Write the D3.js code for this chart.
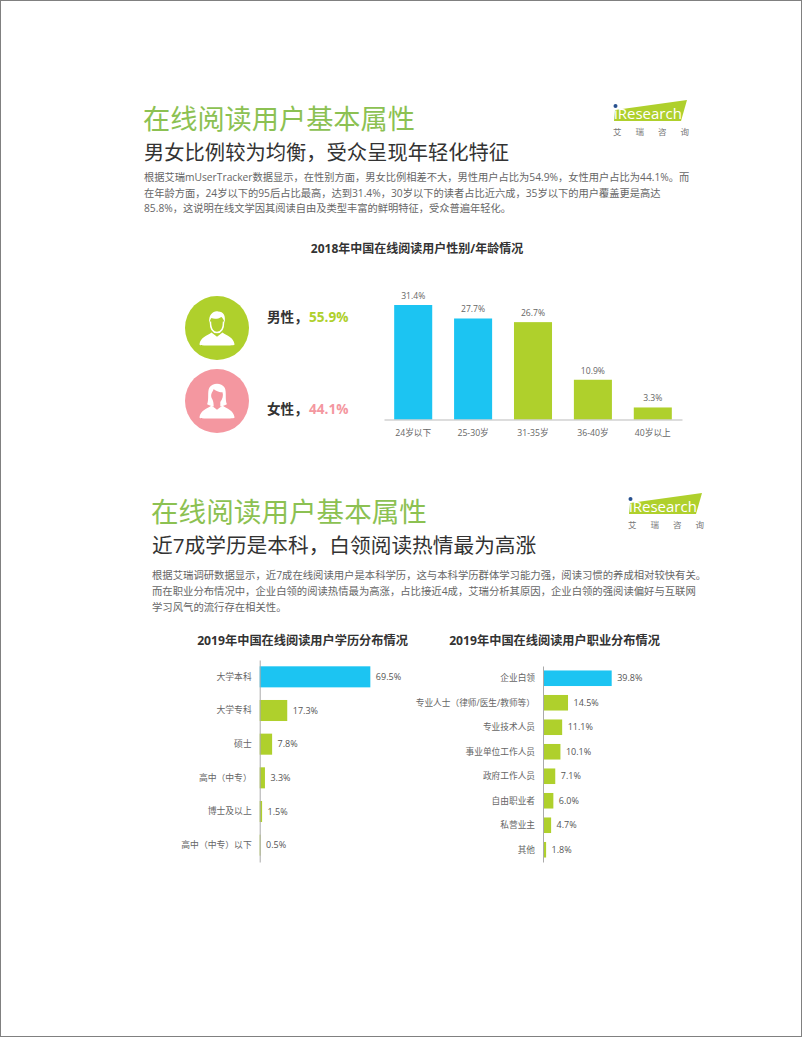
<!DOCTYPE html>
<html>
<head>
<meta charset="utf-8">
<script src="https://cdn.jsdelivr.net/npm/d3@7"></script>
<style>
  html, body { margin: 0; padding: 0; background: #fff; }
  svg { display: block; }
  text { font-family: "Open Sans", "Noto Sans CJK SC", sans-serif; }
</style>
</head>
<body>
<div id="chart"></div>
<script>
const ageCategories = ['24岁以下', '25-30岁', '31-35岁', '36-40岁', '40岁以上'];
const ageValues = [31.4, 27.7, 26.7, 10.9, 3.3];
const ageHighlight = ['24岁以下', '25-30岁'];

const eduCategories = ['大学本科', '大学专科', '硕士', '高中（中专）', '博士及以上', '高中（中专）以下'];
const eduValues = [69.5, 17.3, 7.8, 3.3, 1.5, 0.5];

const jobCategories = ['企业白领', '专业人士（律师/医生/教师等）', '专业技术人员', '事业单位工作人员', '政府工作人员', '自由职业者', '私营业主', '其他'];
const jobValues = [39.8, 14.5, 11.1, 10.1, 7.1, 6.0, 4.7, 1.8];

const blue = '#1cc4f2';
const green = '#afd02c';
const pink = '#f497a0';
const titleGreen = '#8cc152';
const labelFont = '"Open Sans", "Noto Sans CJK SC", sans-serif';

const svg = d3.select('#chart').append('svg').attr('width', 802).attr('height', 1037);
svg.append('rect').attr('x', 0.5).attr('y', 0.5).attr('width', 801).attr('height', 1036)
  .attr('fill', '#fff').attr('stroke', '#808080');

function addText(x, y, str, size, color, weight, anchor) {
  return svg.append('text').attr('x', x).attr('y', y).text(str)
    .attr('font-size', size).attr('fill', color)
    .attr('font-weight', weight || 400)
    .attr('text-anchor', anchor || 'start');
}

function logo(logoX, logoY) {
  const g = svg.append('g').attr('transform', `translate(${logoX},${logoY})`);
  g.append('path').attr('d', 'M3,11L75,1L69,22L2,22Z').attr('fill', green);
  g.append('text').attr('x', 2).attr('y', 20).text('iResearch')
    .attr('font-size', 15).attr('fill', '#fff');
  g.append('circle').attr('cx', 3.5).attr('cy', 7).attr('r', 2).attr('fill', '#27508f');
  ['艾', '瑞', '咨', '询'].forEach((c, i) => {
    g.append('text').attr('x', 1 + i * 22.5).attr('y', 36).text(c)
      .attr('font-size', 8.5).attr('fill', '#777');
  });
}

function header(x, yTitle, ySub, titleSize, subSize, subtitle, lines, lineY, lineGap, bodySize) {
  addText(x, yTitle, '在线阅读用户基本属性', titleSize, titleGreen);
  addText(x + 1, ySub, subtitle, subSize, '#333');
  lines.forEach((l, i) => addText(x + 1, lineY + i * lineGap, l, bodySize, '#666'));
}

header(143, 129, 160, 27.2, 20.3, '男女比例较为均衡，受众呈现年轻化特征', [
  '根据艾瑞mUserTracker数据显示，在性别方面，男女比例相差不大，男性用户占比为54.9%，女性用户占比为44.1%。而',
  '在年龄方面，24岁以下的95后占比最高，达到31.4%，30岁以下的读者占比近六成，35岁以下的用户覆盖更是高达',
  '85.8%，这说明在线文学因其阅读自由及类型丰富的鲜明特征，受众普遍年轻化。'
], 181, 15.5, 10.25);
logo(612, 99);

header(151, 522, 553, 27.6, 20.7, '近7成学历是本科，白领阅读热情最为高涨', [
  '根据艾瑞调研数据显示，近7成在线阅读用户是本科学历，这与本科学历群体学习能力强，阅读习惯的养成相对较快有关。',
  '而在职业分布情况中，企业白领的阅读热情最为高涨，占比接近4成，艾瑞分析其原因，企业白领的强阅读偏好与互联网',
  '学习风气的流行存在相关性。'
], 579, 16, 10.35);
logo(627, 492);

addText(417, 253, '2018年中国在线阅读用户性别/年龄情况', 12, '#333', 700, 'middle');
addText(302.5, 645, '2019年中国在线阅读用户学历分布情况', 12.2, '#333', 700, 'middle');
addText(554.5, 645, '2019年中国在线阅读用户职业分布情况', 12.2, '#333', 700, 'middle');

// 性别图标
function person(cx, cy, fill, female) {
  const c = svg.append('g').attr('transform', `translate(${cx},${cy})`);
  c.append('circle').attr('r', 32).attr('fill', fill);
  const g = c.append('g').attr('transform', 'scale(1.1)');
  g.append('path').attr('fill', '#fff')
    .attr('d', 'M-16,15C-15,8 -9,7 -5,4L0,8L5,4C9,7 15,8 16,15C16,16 10,16 0,16C-10,16 -16,16 -16,15Z');
  if (female) {
    g.append('path').attr('fill', '#fff').attr('d', 'M-9,3C-7,-2 -9,-8 -7,-12C-4,-17 4,-17 7,-12C9,-8 7,-2 9,3C5,5 3,5 3,5L3,1C5,-2 6,-5 5,-8C1,-8 -2,-10 -3,-11C-4,-8 -6,-7 -5,-3C-4,-1 -3,0 -3,5C-3,5 -5,5 -9,3Z');
  } else {
    g.append('path').attr('fill', 'none').attr('stroke', '#fff').attr('stroke-width', 1.4)
      .attr('d', 'M-6,-6C-6,2 -3,4 0,4C3,4 6,2 6,-6');
    g.append('path').attr('fill', '#fff').attr('d', 'M-7,-5C-8,-12 -3,-16 1,-15C6,-15 8,-11 7,-5C6,-8 5,-9 4,-10C1,-8 -3,-8 -5,-9C-6,-8 -6,-7 -7,-5Z');
  }
}
person(217, 328, green, false);
person(217, 401, pink, true);

addText(267, 322, '男性，', 13.6, '#333', 700);
addText(309, 322, '55.9%', 13.6, green, 700);
addText(267, 414, '女性，', 13.6, '#333', 700);
addText(309, 414, '44.1%', 13.6, pink, 700);

// 年龄柱状图
const xAge = d3.scaleBand().domain(ageCategories).range([384, 682]).paddingInner(0.365).paddingOuter(0.17);
const yAge = d3.scaleLinear().domain([0, 31.4]).range([419.5, 305]);
svg.selectAll('.age-bar').data(ageCategories).enter().append('rect')
  .attr('class', 'age-bar')
  .attr('x', d => xAge(d))
  .attr('width', xAge.bandwidth())
  .attr('y', (d, i) => yAge(ageValues[i]))
  .attr('height', (d, i) => yAge(0) - yAge(ageValues[i]))
  .attr('fill', d => ageHighlight.includes(d) ? blue : green);
svg.selectAll('.age-val').data(ageCategories).enter().append('text')
  .attr('class', 'age-val')
  .attr('x', d => xAge(d) + xAge.bandwidth() / 2)
  .attr('y', (d, i) => yAge(ageValues[i]) - 6)
  .attr('text-anchor', 'middle').attr('font-size', 8.6).attr('fill', '#666')
  .text((d, i) => ageValues[i].toFixed(1) + '%');
const axAge = svg.append('g').attr('transform', 'translate(0,419.5)')
  .call(d3.axisBottom(xAge).tickSize(0).tickPadding(10));
axAge.select('.domain').attr('stroke', '#bbb');
axAge.selectAll('text').attr('font-size', 8.7).attr('fill', '#666').attr('font-family', labelFont);

// 横向条形图
function hbars(cats, vals, x0, pxPerPct, yTop, yBottom, pad, fs) {
  const y = d3.scaleBand().domain(cats).range([yTop, yBottom]).paddingInner(pad).paddingOuter(pad / 2);
  const x = d3.scaleLinear().domain([0, 100]).range([x0, x0 + pxPerPct * 100]);
  svg.append('g').selectAll('rect').data(cats).enter().append('rect')
    .attr('x', x(0))
    .attr('y', d => y(d))
    .attr('height', y.bandwidth())
    .attr('width', (d, i) => x(vals[i]) - x(0))
    .attr('fill', (d, i) => i === 0 ? blue : green);
  svg.append('g').selectAll('text').data(cats).enter().append('text')
    .attr('x', (d, i) => x(vals[i]) + 5.5)
    .attr('y', d => y(d) + y.bandwidth() / 2)
    .attr('dy', '0.35em')
    .attr('font-size', 9).attr('fill', '#555')
    .text((d, i) => vals[i].toFixed(1) + '%');
  const ax = svg.append('g').attr('transform', `translate(${x0},0)`)
    .call(d3.axisLeft(y).tickSize(0).tickPadding(8));
  ax.select('.domain').attr('stroke', '#aaa');
  ax.selectAll('text').attr('font-size', fs).attr('fill', '#666').attr('font-family', labelFont);
}
hbars(eduCategories, eduValues, 259.7, 1.592, 660, 862, 0.375, 8.8);
hbars(jobCategories, jobValues, 543, 1.726, 666, 862, 0.365, 8.7);
</script>
</body>
</html>
